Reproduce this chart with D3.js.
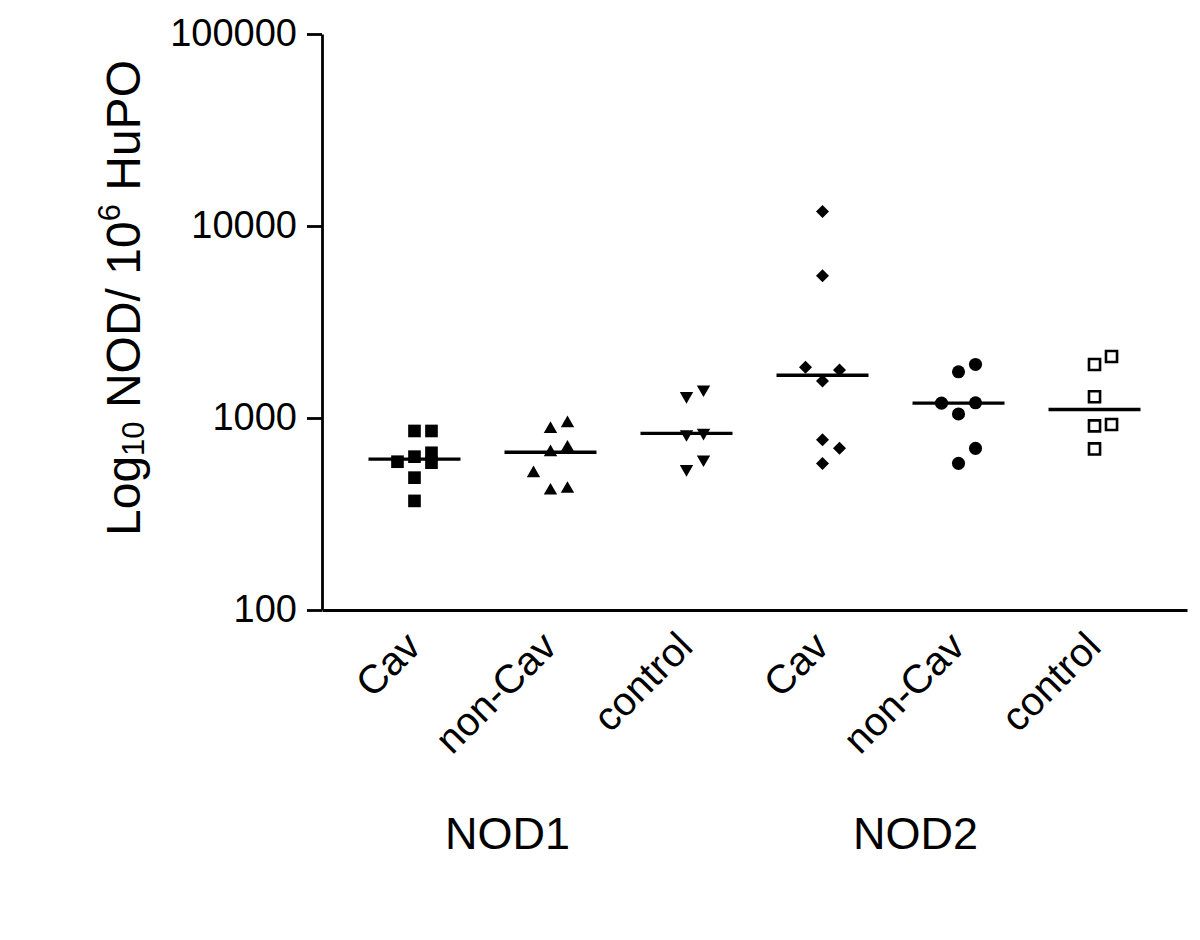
<!DOCTYPE html>
<html>
<head>
<meta charset="utf-8">
<script src="https://cdn.jsdelivr.net/npm/d3@7"></script>
<style>
  body { margin: 0; background: #fff; }
  svg { font-family: Arial, "Liberation Sans", sans-serif; }
</style>
</head>
<body>
<div class="display"></div>
<script>
// categories on the x axis, two NOD groups of three
const categories = ["Cav", "non-Cav", "control", "Cav", "non-Cav", "control"];
const groupNames = ["NOD1", "NOD2"];
const yTicks = [100, 1000, 10000, 100000];

// values per column (NOD / 10^6 HuPO)
const nod1Cav = [856, 856, 629, 659, 592, 585, 489, 370];
const nod1NonCav = [876, 938, 663, 700, 418, 427, 515];
const nod1Control = [1302, 1411, 825, 838, 543, 609];
const nod2Cav = [11900, 5500, 1560, 1780, 1840, 770, 695, 580];
const nod2NonCav = [1740, 1900, 1050, 1200, 1195, 580, 695];
const nod2Control = [1900, 2090, 1290, 910, 925, 690];

const columns = [nod1Cav, nod1NonCav, nod1Control, nod2Cav, nod2NonCav, nod2Control];

class DotPlot {
  constructor(columns) {
    this.columns = columns;
    this.sizes = {
      width: 1200,
      height: 940,
      margin: { top: 34, right: 13, bottom: 330, left: 322 }
    };
    // marker look for each column
    this.markers = [
      { type: d3.symbolSquare, size: 160, rotate: 0, fill: "#000", stroke: "none" },
      { type: d3.symbolTriangle, size: 78, rotate: 0, fill: "#000", stroke: "none" },
      { type: d3.symbolTriangle, size: 78, rotate: 180, fill: "#000", stroke: "none" },
      { type: d3.symbolSquare, size: 84, rotate: 45, fill: "#000", stroke: "none" },
      { type: d3.symbolCircle, size: 135, rotate: 0, fill: "#000", stroke: "none" },
      { type: d3.symbolSquare, size: 122, rotate: 0, fill: "#fff", stroke: "#000" }
    ];
    this.render();
  }

  render() {
    this.drawCanvas()
      .createScale()
      .addAxis()
      .addPoints()
      .addMedians()
      .addLabels();
  }

  drawCanvas() {
    const { width, height } = this.sizes;
    this.svg = d3
      .select(".display")
      .append("svg")
      .attr("width", width)
      .attr("height", height);
    this.svg.append("rect").attr("width", width).attr("height", height).attr("fill", "#fff");
    return this;
  }

  createScale() {
    const { width, height, margin } = this.sizes;
    this.xScale = d3
      .scalePoint()
      .domain(d3.range(categories.length))
      .range([margin.left, width - margin.right])
      .padding(0.68);

    this.yScale = d3
      .scaleLog()
      .domain([100, 100000])
      .range([height - margin.bottom, margin.top]);
    return this;
  }

  addAxis() {
    const { height, margin } = this.sizes;
    const yAxis = d3
      .axisLeft(this.yScale)
      .tickValues(yTicks)
      .tickFormat(d3.format("d"))
      .tickSize(15)
      .tickSizeOuter(0);

    const yg = this.svg
      .append("g")
      .attr("id", "y-axis")
      .attr("transform", `translate(${margin.left},0)`)
      .call(yAxis);
    yg.selectAll("path, line").attr("stroke", "#000").attr("stroke-width", 2.8);
    yg.selectAll("text")
      .attr("x", -25)
      .attr("y", -2)
      .attr("dy", "0.35em")
      .attr("fill", "#000")
      .attr("font-size", 38);

    const xAxis = d3
      .axisBottom(this.xScale)
      .tickSize(0)
      .tickSizeOuter(0)
      .tickFormat(i => categories[i]);

    const xg = this.svg
      .append("g")
      .attr("id", "x-axis")
      .attr("transform", `translate(0,${height - margin.bottom})`)
      .call(xAxis);
    xg.select(".domain").attr("stroke", "#000").attr("stroke-width", 2.8);
    xg.selectAll(".tick text")
      .attr("y", 0)
      .attr("dy", "0.35em")
      .attr("text-anchor", "end")
      .attr("fill", "#000")
      .attr("font-size", 40)
      .attr("transform", "translate(-2,29) rotate(-45)");
    return this;
  }

  // simple swarm: try centre, right, left; keep points apart by t px
  swarm(values) {
    const t = 18;
    const placed = [];
    return values.map(v => {
      const py = this.yScale(v);
      let slot = 0;
      let bestGap = -1;
      for (const s of [0, 1, -1]) {
        const same = placed.filter(p => p.slot === s);
        const gap = same.length ? d3.min(same, p => Math.abs(p.py - py)) : Infinity;
        if (gap >= t) {
          slot = s;
          break;
        }
        if (gap > bestGap) {
          bestGap = gap;
          slot = s;
        }
      }
      placed.push({ slot, py });
      return { value: v, slot };
    });
  }

  addPoints() {
    const step = 17;
    this.columns.forEach((vals, i) => {
      const m = this.markers[i];
      const sym = d3.symbol().type(m.type).size(m.size);
      const cx = this.xScale(i);
      this.svg
        .append("g")
        .attr("class", "column")
        .selectAll("path")
        .data(this.swarm(vals))
        .join("path")
        .attr("d", sym)
        .attr("fill", m.fill)
        .attr("stroke", m.stroke)
        .attr("stroke-width", 2.6)
        .attr(
          "transform",
          d => `translate(${cx + d.slot * step},${this.yScale(d.value)}) rotate(${m.rotate})`
        );
    });
    return this;
  }

  addMedians() {
    const half = 46;
    this.svg
      .append("g")
      .attr("class", "medians")
      .selectAll("line")
      .data(this.columns.map((vals, i) => ({ i, med: d3.median(vals) })))
      .join("line")
      .attr("x1", d => this.xScale(d.i) - half)
      .attr("x2", d => this.xScale(d.i) + half)
      .attr("y1", d => this.yScale(d.med))
      .attr("y2", d => this.yScale(d.med))
      .attr("stroke", "#000")
      .attr("stroke-width", 3.4);
    return this;
  }

  addLabels() {
    // group names under each set of three columns
    this.svg
      .append("g")
      .selectAll("text")
      .data(groupNames)
      .join("text")
      .attr("x", (d, g) => d3.mean([0, 1, 2], k => this.xScale(g * 3 + k)) - 43)
      .attr("y", 849)
      .attr("text-anchor", "middle")
      .attr("font-size", 45)
      .attr("fill", "#000")
      .text(d => d);

    // y title with sub and superscript
    const title = this.svg
      .append("text")
      .attr("transform", "translate(140,298) rotate(-90)")
      .attr("text-anchor", "middle")
      .attr("font-size", 48)
      .attr("fill", "#000");
    title.append("tspan").text("Log");
    title.append("tspan").attr("font-size", 31).attr("dy", 4).text("10");
    title.append("tspan").attr("dy", -4).text(" NOD/ 10");
    title.append("tspan").attr("font-size", 31).attr("dy", -20).text("6");
    title.append("tspan").attr("dy", 20).text(" HuPO");
    return this;
  }
}

new DotPlot(columns);
</script>
</body>
</html>
